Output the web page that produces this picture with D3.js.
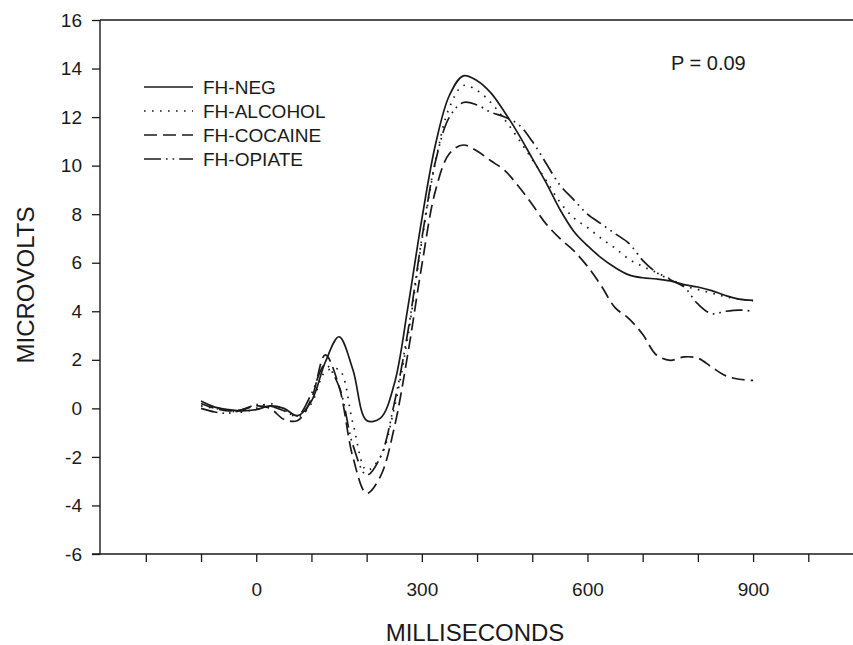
<!DOCTYPE html>
<html>
<head>
<meta charset="utf-8">
<script src="https://cdn.jsdelivr.net/npm/d3@7"></script>
<style>
  body { margin: 0; background: #fff; }
  svg { display: block; }
  text { font-family: "Liberation Sans", Arial, sans-serif; fill: #1a1a1a; }
</style>
</head>
<body>
<svg id="chart" width="853" height="645"></svg>
<script>
// ---- data ----
const ms = [-100,-75,-50,-25,0,25,50,75,100,125,150,175,200,225,250,275,300,325,350,375,400,425,450,475,500,525,550,575,600,625,650,675,700,725,750,775,800,825,850,875,900];
const fhNeg =     [0.3,0.05,-0.05,-0.1,-0.05,0.1,0.0,-0.3,0.3,1.9,2.95,1.6,-0.5,-0.4,1.0,4.2,7.8,10.9,12.9,13.7,13.5,13.0,12.2,11.3,10.3,9.3,8.2,7.3,6.7,6.2,5.8,5.5,5.38,5.33,5.25,5.1,5.0,4.85,4.65,4.5,4.45];
const fhAlcohol = [0.1,0.0,-0.1,-0.15,0.0,0.2,-0.05,-0.35,0.2,1.5,1.6,-0.6,-2.55,-2.0,0.0,3.0,6.9,10.2,12.4,13.3,13.1,12.6,11.9,11.1,10.25,9.4,8.5,7.85,7.45,7.0,6.6,6.15,5.85,5.6,5.33,5.05,4.9,4.75,4.6,4.5,4.42];
const fhCocaine = [0.2,0.0,-0.1,-0.05,0.1,0.0,-0.45,-0.5,0.4,2.2,0.9,-2.0,-3.5,-2.8,-0.8,2.3,5.9,9.0,10.5,10.85,10.6,10.2,9.8,9.15,8.4,7.6,7.0,6.5,5.85,5.05,4.15,3.7,3.05,2.2,1.98,2.12,2.07,1.7,1.35,1.2,1.15];
const fhOpiate =  [0.0,-0.15,-0.2,-0.05,0.15,0.1,-0.1,-0.3,0.6,1.8,0.9,-1.5,-2.75,-2.0,0.2,3.2,7.0,10.2,12.0,12.6,12.5,12.2,12.0,11.7,11.0,10.1,9.2,8.6,8.0,7.6,7.2,6.8,6.1,5.6,5.3,5.0,4.3,3.9,4.0,4.05,4.0];

const seriesNames = ["FH-NEG","FH-ALCOHOL","FH-COCAINE","FH-OPIATE"];
const seriesValues = [fhNeg, fhAlcohol, fhCocaine, fhOpiate];
const dashes = [null, "1.6,6.4", "13,6", "17,5,1.6,5,1.6,5"];

const yTicks = [-6,-4,-2,0,2,4,6,8,10,12,14,16];
const xTicks = [-200,-100,0,100,200,300,400,500,600,700,800,900,1000];
const xTickLabels = [0,300,600,900];
const pLabel = "P = 0.09";

// ---- layout ----
const svg = d3.select("#chart");
const x = d3.scaleLinear().domain([-283, 1081]).range([100, 853]);
const y = d3.scaleLinear().domain([-6, 16]).range([554, 20]);

// axes
const yAxis = d3.axisLeft(y).tickValues(yTicks).tickSize(8).tickPadding(10).tickFormat(d => String(d));
const gy = svg.append("g").attr("transform", "translate(100,0)").call(yAxis);
const xAxis = d3.axisBottom(x).tickValues(xTicks).tickSize(8).tickPadding(21)
  .tickFormat(d => xTickLabels.includes(d) ? String(d) : "");
const gx = svg.append("g").attr("transform", "translate(0,554)").call(xAxis);

[gx, gy].forEach(g => {
  g.select(".domain").remove();
  g.selectAll("line").attr("stroke", "#1a1a1a").attr("stroke-width", 1.3);
  g.selectAll("text").style("font-size", "19px").attr("fill", "#1a1a1a");
});

// frame lines (left, top, bottom)
svg.append("line").attr("x1",100).attr("x2",100).attr("y1",y(16)).attr("y2",y(-6)).attr("stroke","#1a1a1a").attr("stroke-width",1.4);
svg.append("line").attr("x1",100).attr("x2",853).attr("y1",y(16)).attr("y2",y(16)).attr("stroke","#1a1a1a").attr("stroke-width",1.4);
svg.append("line").attr("x1",92).attr("x2",853).attr("y1",y(-6)).attr("y2",y(-6)).attr("stroke","#1a1a1a").attr("stroke-width",1.4);

// lines
const line = d3.line().x((d,i) => x(ms[i])).y(d => y(d)).curve(d3.curveCatmullRom.alpha(0.5));
seriesValues.forEach((vals, k) => {
  const p = svg.append("path").datum(vals).attr("d", line)
    .attr("fill","none").attr("stroke","#1a1a1a").attr("stroke-width",1.7);
  if (dashes[k]) p.attr("stroke-dasharray", dashes[k]);
});

// legend
const legY = [87, 111, 135, 159];
seriesNames.forEach((name, k) => {
  const l = svg.append("line").attr("x1",144).attr("x2",193).attr("y1",legY[k]).attr("y2",legY[k])
    .attr("stroke","#1a1a1a").attr("stroke-width",1.7);
  if (dashes[k]) l.attr("stroke-dasharray", dashes[k]);
  svg.append("text").attr("x",203).attr("y",legY[k]).attr("dy","0.36em").style("font-size","19px").text(name);
});

// P label
svg.append("text").attr("x",671).attr("y",70).style("font-size","20px").text(pLabel);

// axis titles
svg.append("text").attr("x",475).attr("y",641).attr("text-anchor","middle").style("font-size","24px").text("MILLISECONDS");
svg.append("text").attr("transform","translate(34,285) rotate(-90)").attr("text-anchor","middle").style("font-size","24px").text("MICROVOLTS");
</script>
</body>
</html>
